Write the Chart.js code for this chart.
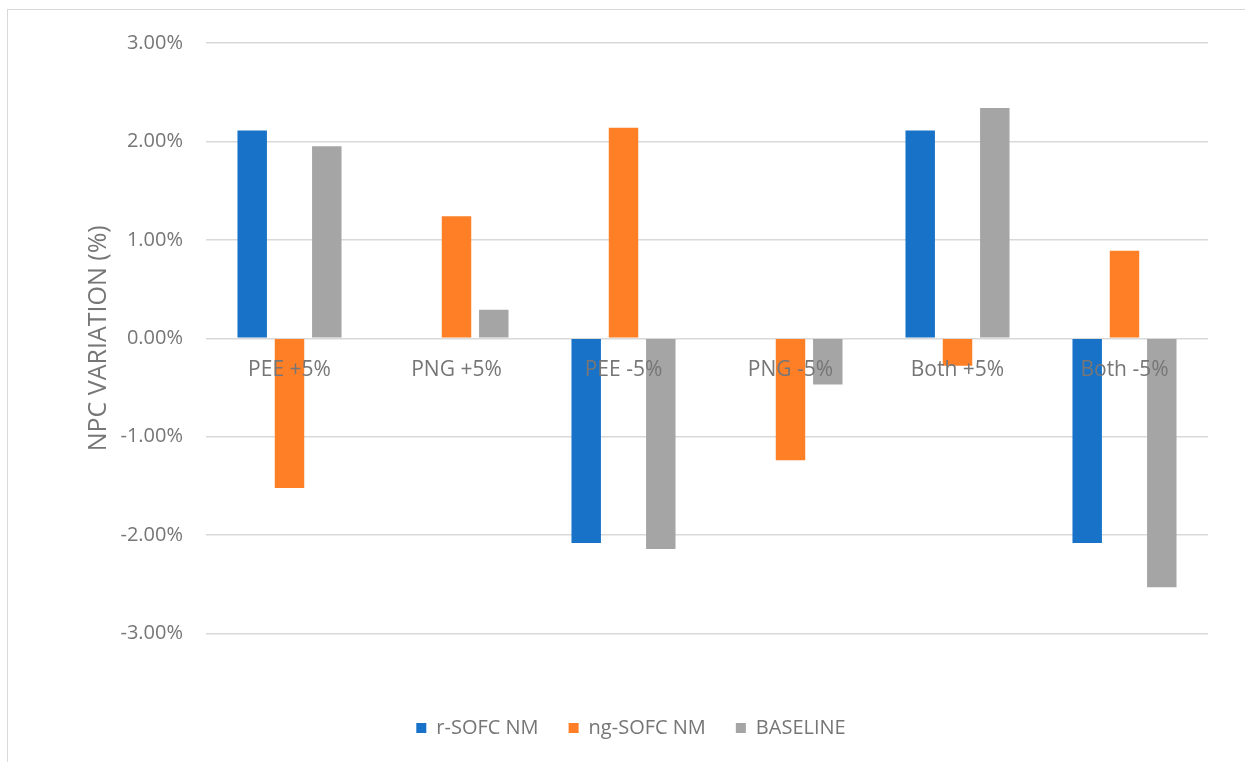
<!DOCTYPE html>
<html>
<head>
<meta charset="utf-8">
<script src="https://cdn.jsdelivr.net/npm/chart.js@4.4.1/dist/chart.umd.min.js"></script>
<style>
  body { margin: 0; background: #fff; }
  #wrap { position: relative; width: 1245px; height: 762px; overflow: hidden; }
  #frame { position: absolute; left: 7px; top: 9px; width: 1300px; height: 800px;
           border-left: 1.5px solid #d9d9d9; border-top: 1.5px solid #d9d9d9; }
  canvas { position: absolute; left: 0; top: 0; }
</style>
</head>
<body>
<div id="wrap">
  <div id="frame"></div>
  <canvas id="myChart" width="1245" height="762"></canvas>
</div>
<script>
var categories = ['PEE +5%', 'PNG +5%', 'PEE -5%', 'PNG -5%', 'Both +5%', 'Both -5%'];
var rSofc    = [2.11, 0, -2.08, 0, 2.11, -2.08];
var ngSofc   = [-1.52, 1.24, 2.14, -1.24, -0.28, 0.89];
var baseline = [1.95, 0.29, -2.14, -0.47, 2.34, -2.53];
var seriesNames = ['r-SOFC NM', 'ng-SOFC NM', 'BASELINE'];
var yTicks = [-3, -2, -1, 0, 1, 2, 3];

var textGray = '#767676';
var font = "'Open Sans', sans-serif";

function ds(label, data, color) {
  return {
    label: label,
    data: data,
    backgroundColor: color,
    borderWidth: 0,
    categoryPercentage: 0.67,
    barPercentage: 0.79
  };
}

var ctx = document.getElementById('myChart').getContext('2d');
var myChart = new Chart(ctx, {
  type: 'bar',
  data: {
    labels: categories,
    datasets: [
      ds(seriesNames[0], rSofc, '#1872C8'),
      ds(seriesNames[1], ngSofc, '#FF7F27'),
      ds(seriesNames[2], baseline, '#A5A5A5')
    ]
  },
  options: {
    responsive: false,
    animation: false,
    layout: {
      padding: { left: 54, right: 37, top: 43, bottom: 14 }
    },
    plugins: {
      tooltip: { enabled: false },
      legend: {
        position: 'bottom',
        title: { display: true, text: '', padding: { top: 40, bottom: 0 } },
        labels: {
          boxWidth: 10,
          boxHeight: 10,
          padding: 30,
          color: textGray,
          font: { family: font, size: 20 }
        }
      }
    },
    scales: {
      x: {
        position: { y: 0 },
        grid: { display: false, drawTicks: false },
        border: { display: false },
        ticks: {
          z: 1,
          color: textGray,
          padding: 19,
          font: { family: font, size: 21 }
        }
      },
      y: {
        min: -3,
        max: 3,
        afterFit: function(scale) { scale.width = 152; },
        afterBuildTicks: function(scale) {
          scale.ticks = yTicks.map(function(v) { return { value: v }; });
        },
        grid: { color: '#D9D9D9', lineWidth: 1.5, drawTicks: false },
        border: { display: false },
        ticks: {
          color: textGray,
          padding: 23,
          font: { family: font, size: 20 },
          callback: function(v) { return v.toFixed(2) + '%'; }
        },
        title: {
          display: true,
          text: 'NPC VARIATION (%)',
          color: textGray,
          padding: { top: 30, bottom: 4 },
          font: { family: font, size: 25 }
        }
      }
    }
  }
});
</script>
</body>
</html>
